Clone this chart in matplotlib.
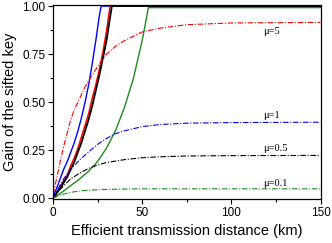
import matplotlib as mpl
mpl.use("Agg")
import matplotlib.pyplot as plt
from matplotlib.ticker import MultipleLocator

mpl.rcParams.update(
    {
        "font.family": "Liberation Sans",
        "axes.linewidth": 0.9,
        "xtick.labelsize": 8.5,
        "ytick.labelsize": 8.5,
    }
)

# solid curves (saturate at 1)
blue_x = [0, 2, 4, 6, 8, 10, 12, 14, 16, 18, 20, 22, 24, 26, 27, 150]
blue_y = [0.01, 0.05, 0.1, 0.15, 0.19, 0.24, 0.29, 0.35, 0.42, 0.5, 0.59, 0.7, 0.82, 0.95, 1.0, 1.0]
red_x = [0, 2, 4, 6, 8, 10, 12, 14, 16, 18, 20, 22, 24, 26, 28, 30, 32, 150]
red_y = [0.005, 0.03, 0.06, 0.09, 0.12, 0.17, 0.21, 0.26, 0.32, 0.38, 0.44, 0.52, 0.59, 0.67, 0.76, 0.87, 1.0, 1.0]
black_x = [0, 2, 4, 6, 8, 10, 12, 14, 16, 18, 20, 22, 24, 26, 28, 30, 33, 150]
black_y = [0, 0.025, 0.05, 0.08, 0.11, 0.15, 0.19, 0.24, 0.29, 0.35, 0.41, 0.48, 0.56, 0.64, 0.73, 0.82, 1.0, 1.0]
green_x = [0, 5, 10, 15, 20, 25, 30, 35, 40, 45, 50, 53.5, 150]
green_y = [0, 0.03, 0.065, 0.1, 0.14, 0.19, 0.26, 0.35, 0.47, 0.62, 0.82, 0.992, 0.992]

# dash-dot curves, one per mu
mu5_x = [0, 2, 4, 6, 8, 10, 12, 15, 18, 22, 26, 30, 35, 40, 50, 60, 75, 100, 150]
mu5_y = [0.02, 0.1, 0.19, 0.27, 0.34, 0.41, 0.46, 0.52, 0.58, 0.64, 0.7, 0.75, 0.79, 0.82, 0.865, 0.885, 0.903, 0.912, 0.915]
mu1_x = [0, 3, 6, 10, 15, 20, 25, 30, 35, 40, 50, 60, 75, 100, 150]
mu1_y = [0, 0.05, 0.1, 0.15, 0.2, 0.24, 0.28, 0.31, 0.335, 0.35, 0.372, 0.383, 0.39, 0.393, 0.395]
mu05_x = [0, 3, 6, 10, 15, 20, 25, 30, 40, 50, 60, 75, 100, 150]
mu05_y = [0, 0.035, 0.065, 0.1, 0.13, 0.155, 0.172, 0.185, 0.2, 0.21, 0.215, 0.219, 0.221, 0.222]
mu01_x = [0, 5, 10, 15, 20, 30, 40, 50, 75, 100, 150]
mu01_y = [0, 0.018, 0.03, 0.037, 0.041, 0.045, 0.047, 0.048, 0.048, 0.048, 0.048]

labels = ["\u03bc=5", "\u03bc=1", "\u03bc=0.5", "\u03bc=0.1"]
label_x = [118, 118, 118, 118]
label_y = [0.865, 0.432, 0.26, 0.078]

GREEN = "#1f8a1f"
DASHDOT = (0, (5, 1.5, 1, 1.5))

fig = plt.figure(figsize=(3.32, 2.43), dpi=100)
ax = fig.add_axes([53 / 332, 44 / 243, 267.5 / 332, 193.5 / 243])

ax.plot(green_x, green_y, color=GREEN, lw=1.0)
ax.plot(blue_x, blue_y, color="blue", lw=1.0)
ax.plot(red_x, red_y, color="red", lw=1.1)
ax.plot(black_x, black_y, color="black", lw=1.3)

ax.plot(mu5_x, mu5_y, color="red", lw=0.8, linestyle=DASHDOT)
ax.plot(mu1_x, mu1_y, color="blue", lw=0.8, linestyle=DASHDOT)
ax.plot(mu05_x, mu05_y, color="black", lw=0.8, linestyle=DASHDOT)
ax.plot(mu01_x, mu01_y, color=GREEN, lw=0.8, linestyle=DASHDOT)

for text, x, y in zip(labels, label_x, label_y):
    ax.text(x, y, text, fontsize=7.5, family="Liberation Serif", va="center", ha="left")

ax.set_xlim(0, 150)
ax.set_ylim(-0.005, 1.003)
ax.xaxis.set_major_locator(MultipleLocator(50))
ax.xaxis.set_minor_locator(MultipleLocator(25))
ax.yaxis.set_major_locator(MultipleLocator(0.25))
ax.yaxis.set_minor_locator(MultipleLocator(0.125))
ax.yaxis.set_major_formatter(mpl.ticker.FormatStrFormatter("%.2f"))
ax.tick_params(axis="both", which="major", direction="out", length=3.5, width=0.8, pad=2)
ax.tick_params(axis="both", which="minor", direction="out", length=2, width=0.8)

ax.set_xlabel("Efficient transmission distance (km)", fontsize=10.5, labelpad=4)
ax.set_ylabel("Gain of the sifted key", fontsize=10.5, labelpad=4)

fig.savefig("out.png", dpi=100)
